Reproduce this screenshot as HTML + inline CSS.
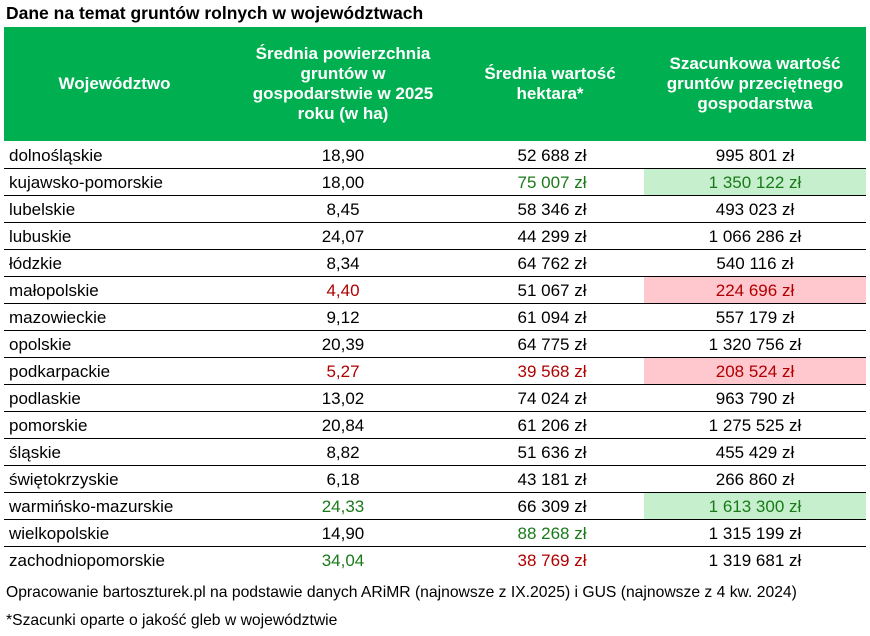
<!DOCTYPE html>
<html><head><meta charset="utf-8"><style>
body{margin:0;width:870px;height:636px;background:#fff;font-family:"Liberation Sans",Arial,sans-serif;position:relative;overflow:hidden;color:#000}
.t{position:absolute;left:6px;top:3px;font-size:17.5px;font-weight:bold}
.h{position:absolute;left:4px;top:27px;width:862px;height:114px;background:#00b050}
.hc{position:absolute;top:27px;height:114px;display:flex;align-items:center;justify-content:center;text-align:center;color:#fff;font-weight:bold;font-size:17px;line-height:20px}
.r{position:absolute;left:4px;width:862px;height:27px;border-bottom:1px solid #000;box-sizing:border-box;font-size:17px}
.r div{position:absolute;top:0;height:26px;line-height:27px}
.c1{left:5px}
.c2{left:221px;width:236px;text-align:center}
.c3{left:457px;width:182px;text-align:center}
.c4{left:640px;width:222px;text-align:center}
.g{color:#1a7a1a}.rd{color:#b00000}
.gb{background:#c6efce}.rb{background:#ffc7ce}
.f{position:absolute;left:6px;font-size:15.7px}
</style></head><body>
<div class="t">Dane na temat gruntów rolnych w województwach</div>
<div class="h"></div>
<div class="hc" style="left:4px;width:221px">Województwo</div>
<div class="hc" style="left:243px;width:200px">Średnia powierzchnia gruntów w gospodarstwie w 2025 roku (w ha)</div>
<div class="hc" style="left:470px;width:160px">Średnia wartość hektara*</div>
<div class="hc" style="left:650px;width:210px">Szacunkowa wartość gruntów przeciętnego gospodarstwa</div>
<div class="r" style="top:142px"><div class="c1">dolnośląskie</div><div class="c2">18,90</div><div class="c3">52 688 zł</div><div class="c4">995 801 zł</div></div>
<div class="r" style="top:169px"><div class="c1">kujawsko-pomorskie</div><div class="c2">18,00</div><div class="c3 g">75 007 zł</div><div class="c4 g gb">1 350 122 zł</div></div>
<div class="r" style="top:196px"><div class="c1">lubelskie</div><div class="c2">8,45</div><div class="c3">58 346 zł</div><div class="c4">493 023 zł</div></div>
<div class="r" style="top:223px"><div class="c1">lubuskie</div><div class="c2">24,07</div><div class="c3">44 299 zł</div><div class="c4">1 066 286 zł</div></div>
<div class="r" style="top:250px"><div class="c1">łódzkie</div><div class="c2">8,34</div><div class="c3">64 762 zł</div><div class="c4">540 116 zł</div></div>
<div class="r" style="top:277px"><div class="c1">małopolskie</div><div class="c2 rd">4,40</div><div class="c3">51 067 zł</div><div class="c4 rd rb">224 696 zł</div></div>
<div class="r" style="top:304px"><div class="c1">mazowieckie</div><div class="c2">9,12</div><div class="c3">61 094 zł</div><div class="c4">557 179 zł</div></div>
<div class="r" style="top:331px"><div class="c1">opolskie</div><div class="c2">20,39</div><div class="c3">64 775 zł</div><div class="c4">1 320 756 zł</div></div>
<div class="r" style="top:358px"><div class="c1">podkarpackie</div><div class="c2 rd">5,27</div><div class="c3 rd">39 568 zł</div><div class="c4 rd rb">208 524 zł</div></div>
<div class="r" style="top:385px"><div class="c1">podlaskie</div><div class="c2">13,02</div><div class="c3">74 024 zł</div><div class="c4">963 790 zł</div></div>
<div class="r" style="top:412px"><div class="c1">pomorskie</div><div class="c2">20,84</div><div class="c3">61 206 zł</div><div class="c4">1 275 525 zł</div></div>
<div class="r" style="top:439px"><div class="c1">śląskie</div><div class="c2">8,82</div><div class="c3">51 636 zł</div><div class="c4">455 429 zł</div></div>
<div class="r" style="top:466px"><div class="c1">świętokrzyskie</div><div class="c2">6,18</div><div class="c3">43 181 zł</div><div class="c4">266 860 zł</div></div>
<div class="r" style="top:493px"><div class="c1">warmińsko-mazurskie</div><div class="c2 g">24,33</div><div class="c3">66 309 zł</div><div class="c4 g gb">1 613 300 zł</div></div>
<div class="r" style="top:520px"><div class="c1">wielkopolskie</div><div class="c2">14,90</div><div class="c3 g">88 268 zł</div><div class="c4">1 315 199 zł</div></div>
<div class="r" style="top:547px;border-bottom:none"><div class="c1">zachodniopomorskie</div><div class="c2 g">34,04</div><div class="c3 rd">38 769 zł</div><div class="c4">1 319 681 zł</div></div>
<div class="f" style="top:584px">Opracowanie bartoszturek.pl na podstawie danych ARiMR (najnowsze z IX.2025) i GUS (najnowsze z 4 kw. 2024)</div>
<div class="f" style="top:612px">*Szacunki oparte o jakość gleb w województwie</div>
</body></html>
